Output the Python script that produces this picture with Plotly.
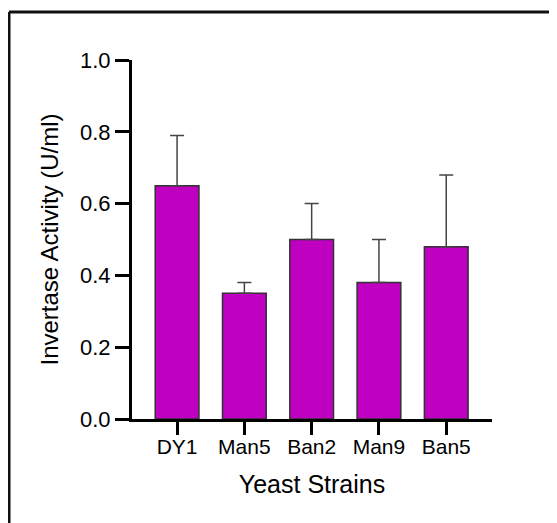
import plotly.graph_objects as go

strains = ["DY1", "Man5", "Ban2", "Man9", "Ban5"]
activity = [0.65, 0.35, 0.50, 0.38, 0.48]
error_up = [0.14, 0.03, 0.10, 0.12, 0.20]
y_ticks = [0.0, 0.2, 0.4, 0.6, 0.8, 1.0]

FONT = "Liberation Sans, Arial, sans-serif"

fig = go.Figure()
fig.add_trace(go.Bar(
    x=strains,
    y=activity,
    width=0.65,
    marker=dict(color="#C000C0", line=dict(color="#333333", width=1.5)),
    error_y=dict(type="data", symmetric=False, array=error_up,
                 arrayminus=[0] * len(error_up),
                 color="#444444", thickness=1.5, width=7),
))

fig.update_layout(
    width=557, height=523,
    margin=dict(l=124, r=73, t=52, b=112),
    paper_bgcolor="white", plot_bgcolor="white",
    showlegend=False,
    font=dict(family=FONT, color="black"),
    xaxis=dict(
        range=[-0.67, 4.68],
        showline=True, linecolor="black", linewidth=3,
        ticks="outside", ticklen=13, tickwidth=3, tickcolor="black",
        tickfont=dict(size=21, family=FONT, color="black"),
        ticklabelstandoff=-6,
        showgrid=False, zeroline=False,
        title=dict(text="Yeast Strains", font=dict(size=25, family=FONT, color="black"), standoff=19),
    ),
    yaxis=dict(
        range=[0, 1.0],
        tickvals=y_ticks,
        ticktext=[f"{v:.1f}" for v in y_ticks],
        showline=True, linecolor="black", linewidth=3,
        ticks="outside", ticklen=14, tickwidth=3, tickcolor="black",
        tickfont=dict(size=22, family=FONT, color="black"),
        showgrid=False, zeroline=False,
        title=dict(text="Invertase Activity (U/ml)", font=dict(size=24, family=FONT, color="black"), standoff=15),
    ),
)

# Frame lines (top and left) as in the reference; positions given in page pixels
px_x = lambda p: (p - 132) / 360.0
px_y = lambda p: (419 - p) / 359.0
fig.add_shape(type="line", xref="paper", yref="paper",
              x0=px_x(9), x1=px_x(560), y0=px_y(12), y1=px_y(12),
              line=dict(color="#111111", width=3))
fig.add_shape(type="line", xref="paper", yref="paper",
              x0=px_x(9), x1=px_x(9), y0=px_y(12), y1=px_y(530),
              line=dict(color="#111111", width=3))

fig.write_html("out.html")
